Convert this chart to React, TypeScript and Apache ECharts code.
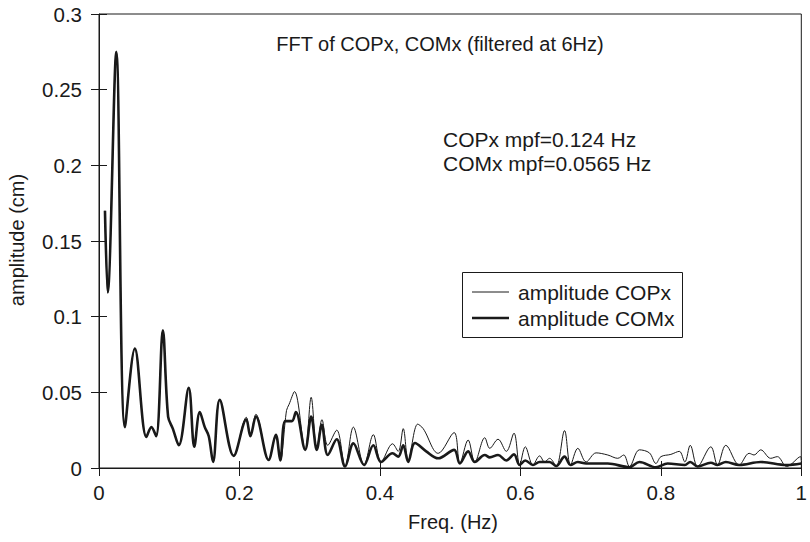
import React, { useEffect, useRef } from "react";
import * as echarts from "echarts";

const comxFreq = [0.0085, 0.0124, 0.0246, 0.0369, 0.0511, 0.0675, 0.0746, 0.0814, 0.0909, 0.0984, 0.1051, 0.1136, 0.1278, 0.1357, 0.1435, 0.1506, 0.1563, 0.1624, 0.1719, 0.1918, 0.2098, 0.2155, 0.2234, 0.2415, 0.2518, 0.2581, 0.2652, 0.2746, 0.2803, 0.2936, 0.3021, 0.3101, 0.3172, 0.3257, 0.3385, 0.3504, 0.3622, 0.3774, 0.3906, 0.4016, 0.418, 0.4261, 0.4332, 0.4403, 0.4499, 0.4659, 0.483, 0.5057, 0.5138, 0.5256, 0.5351, 0.5493, 0.5564, 0.5682, 0.58, 0.5909, 0.599, 0.607, 0.6179, 0.6274, 0.6416, 0.651, 0.6629, 0.6714, 0.6818, 0.6936, 0.7078, 0.7244, 0.7553, 0.7695, 0.793, 0.8097, 0.8342, 0.8419, 0.8523, 0.8712, 0.8807, 0.8925, 0.9115, 0.9422, 0.9791, 1.0];
const comxAmp = [0.17, 0.116, 0.275, 0.027, 0.079, 0.0205, 0.027, 0.021, 0.091, 0.034, 0.026, 0.015, 0.053, 0.014, 0.037, 0.027, 0.021, 0.004, 0.045, 0.008, 0.032, 0.021, 0.034, 0.0053, 0.022, 0.005, 0.031, 0.031, 0.037, 0.012, 0.034, 0.012, 0.0285, 0.0086, 0.019, 0.001, 0.0163, 0.002, 0.015, 0.004, 0.0097, 0.0075, 0.015, 0.004, 0.0165, 0.011, 0.0064, 0.012, 0.003, 0.011, 0.004, 0.0086, 0.007, 0.0086, 0.005, 0.009, 0.002, 0.005, 0.002, 0.004, 0.004, 0.0013, 0.0075, 0.002, 0.004, 0.003, 0.003, 0.003, 0.0005, 0.004, 0.0005, 0.003, 0.002, 0.004, 0.001, 0.0035, 0.002, 0.004, 0.002, 0.004, 0.002, 0.003];

const copxFreq = [0.0085, 0.0124, 0.0246, 0.0369, 0.0511, 0.0675, 0.0746, 0.0814, 0.0909, 0.0984, 0.1051, 0.1136, 0.1278, 0.1357, 0.1435, 0.1506, 0.1563, 0.1624, 0.1719, 0.1918, 0.2098, 0.2155, 0.2234, 0.2415, 0.2518, 0.2581, 0.267, 0.2706, 0.2784, 0.2936, 0.3021, 0.3101, 0.3175, 0.3257, 0.3385, 0.3504, 0.3622, 0.3774, 0.3906, 0.4016, 0.418, 0.4261, 0.4332, 0.4403, 0.4538, 0.4616, 0.483, 0.5057, 0.5138, 0.5256, 0.5351, 0.5493, 0.5564, 0.5682, 0.58, 0.5909, 0.599, 0.607, 0.6179, 0.6274, 0.6345, 0.6416, 0.651, 0.6629, 0.6714, 0.6818, 0.6936, 0.7078, 0.7244, 0.7386, 0.7472, 0.7553, 0.7695, 0.7837, 0.793, 0.8001, 0.8143, 0.8263, 0.8342, 0.8419, 0.8523, 0.8712, 0.8807, 0.8925, 0.9115, 0.9257, 0.9328, 0.9422, 0.9564, 0.9659, 0.9791, 0.999, 1.0];
const copxAmp = [0.17, 0.116, 0.275, 0.027, 0.079, 0.0205, 0.027, 0.021, 0.091, 0.034, 0.026, 0.015, 0.053, 0.014, 0.037, 0.027, 0.021, 0.004, 0.045, 0.008, 0.0335, 0.021, 0.0355, 0.0053, 0.022, 0.005, 0.038, 0.042, 0.0505, 0.012, 0.0467, 0.012, 0.032, 0.015, 0.025, 0.001, 0.027, 0.002, 0.022, 0.004, 0.016, 0.011, 0.026, 0.005, 0.029, 0.026, 0.0097, 0.0234, 0.003, 0.0185, 0.004, 0.02, 0.013, 0.019, 0.011, 0.023, 0.002, 0.014, 0.002, 0.008, 0.004, 0.0064, 0.0013, 0.0247, 0.002, 0.013, 0.004, 0.01, 0.0086, 0.0064, 0.0086, 0.001, 0.012, 0.01, 0.003, 0.0075, 0.009, 0.011, 0.004, 0.015, 0.001, 0.014, 0.002, 0.015, 0.002, 0.0097, 0.0086, 0.012, 0.0064, 0.0075, 0.001, 0.0075, 0.005];

const seriesNames = ["amplitude COPx", "amplitude COMx"];
const titleText = "FFT of COPx, COMx (filtered at 6Hz)";
const mpfTexts = ["COPx mpf=0.124 Hz", "COMx mpf=0.0565 Hz"];
const xAxisName = "Freq. (Hz)";
const yAxisName = "amplitude (cm)";

const FONT = "'Liberation Sans', Arial, Helvetica, sans-serif";
const INK = "#1a1a1a";
const FS_TICK = 20.5;
const FS_TEXT = 21;
const FS_NAME = 20;
const THIN = 1;
const THICK = 2.6;

export default function App() {
  const ref = useRef<HTMLDivElement>(null);
  useEffect(() => {
    if (!ref.current) return;
    const chart = echarts.init(ref.current, undefined, { renderer: "svg" });
    const pair = (f: number[], a: number[]) => f.map((v, i) => [v, a[i]]);
    const baseX = {
      type: "value" as const,
      min: 0,
      max: 1,
      interval: 0.2,
      position: "bottom" as const,
      splitLine: { show: false },
    };
    const baseY = {
      type: "value" as const,
      min: 0,
      max: 0.3,
      interval: 0.05,
      position: "left" as const,
      splitLine: { show: false },
    };
    const txt = (text: string, x: number, y: number, size: number, align: string, extra: any = {}) => ({
      type: "text",
      x,
      y,
      ...extra,
      style: { text, fill: INK, font: `${size}px ${FONT}`, align, verticalAlign: "middle" },
    });
    chart.setOption({
      animation: false,
      backgroundColor: "#fff",
      grid: {
        left: 99,
        right: 6,
        top: 14,
        bottom: 74,
        show: true,
        borderColor: INK,
        borderWidth: 1,
        backgroundColor: "transparent",
      },
      xAxis: [
        {
          ...baseX,
          axisLine: { show: true, lineStyle: { color: INK, width: 1 } },
          axisTick: { show: true, inside: true, length: 7, lineStyle: { color: INK } },
          axisLabel: { color: INK, fontSize: FS_TICK, fontFamily: FONT, margin: 14 },
        },
        {
          ...baseX,
          axisLine: { show: false },
          axisTick: { show: true, inside: false, length: 8, lineStyle: { color: INK } },
          axisLabel: { show: false },
        },
      ],
      yAxis: [
        {
          ...baseY,
          axisLine: { show: true, lineStyle: { color: INK, width: 1 } },
          axisTick: { show: true, inside: true, length: 8, lineStyle: { color: INK } },
          axisLabel: { color: INK, fontSize: FS_TICK, fontFamily: FONT, margin: 17 },
        },
        {
          ...baseY,
          axisLine: { show: false },
          axisTick: { show: true, inside: false, length: 8, lineStyle: { color: INK } },
          axisLabel: { show: false },
        },
      ],
      legend: { show: false },
      series: [
        {
          name: seriesNames[0],
          type: "line",
          xAxisIndex: 0,
          yAxisIndex: 0,
          data: pair(copxFreq, copxAmp),
          smooth: 0.35,
          symbol: "none",
          lineStyle: { color: INK, width: THIN },
          itemStyle: { color: INK },
          z: 3,
        },
        {
          name: seriesNames[1],
          type: "line",
          xAxisIndex: 0,
          yAxisIndex: 0,
          data: pair(comxFreq, comxAmp),
          smooth: 0.35,
          symbol: "none",
          lineStyle: { color: INK, width: THICK },
          itemStyle: { color: INK },
          z: 2,
        },
      ],
      graphic: [
        txt(titleText, 440, 44, FS_NAME, "center"),
        txt(mpfTexts[0], 443, 139, FS_TEXT, "left"),
        txt(mpfTexts[1], 443, 163, FS_TEXT, "left"),
        txt(xAxisName, 453, 522, FS_NAME, "center"),
        txt(yAxisName, 17, 240, FS_NAME, "center", { rotation: Math.PI / 2 }),
        {
          type: "rect",
          shape: { x: 462.5, y: 272.5, width: 220, height: 65 },
          style: { fill: "#fff", stroke: INK, lineWidth: 1 },
        },
        {
          type: "line",
          shape: { x1: 472, y1: 292, x2: 509, y2: 292 },
          style: { stroke: INK, lineWidth: THIN },
        },
        {
          type: "line",
          shape: { x1: 472, y1: 318, x2: 509, y2: 318 },
          style: { stroke: INK, lineWidth: THICK },
        },
        txt(seriesNames[0], 518, 292, FS_TEXT, "left"),
        txt(seriesNames[1], 518, 318, FS_TEXT, "left"),
      ],
    });
    return () => chart.dispose();
  }, []);
  return <div ref={ref} style={{ width: 810, height: 542, position: "absolute", left: 0, top: 0 }} />;
}
